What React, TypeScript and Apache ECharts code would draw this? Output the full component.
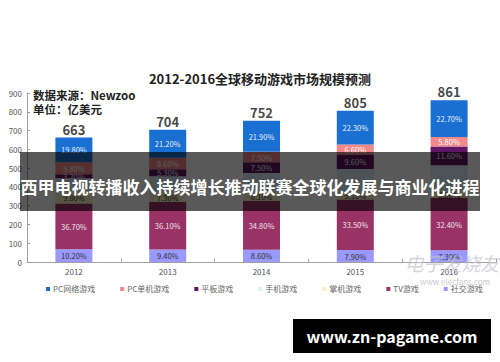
import React, { useEffect, useRef } from "react";
import * as echarts from "echarts";

const years = ["2012", "2013", "2014", "2015", "2016"];
const totals = [663, 704, 752, 805, 861];
const legendNames = ["PC网络游戏", "PC单机游戏", "平板游戏", "手机游戏", "掌机游戏", "TV游戏", "社交游戏"];
// percentage shares per segment (bottom → top order used when stacking)
const social = [10.2, 9.4, 8.6, 7.9, 7.3];
const tv = [36.7, 36.1, 34.8, 33.5, 32.4];
const handheld = [9.8, 7.3, 6.1, 5.1, 3.9];
const phone = [10.5, 12.1, 13.6, 15.0, 16.3];
const tablet = [3.2, 5.3, 7.5, 9.6, 11.6];
const pcCasual = [9.8, 8.6, 7.5, 6.6, 5.8];
const pcOnline = [19.8, 21.2, 21.9, 22.3, 22.7];

const FONT = "'Noto Sans CJK SC', 'Noto Sans', sans-serif";

export default function App() {
  const ref = useRef<HTMLDivElement>(null);
  useEffect(() => {
    if (!ref.current) return;
    const chart = echarts.init(ref.current, undefined, { renderer: "svg" });
    const stackDefs = [
      { name: "社交游戏", pct: social, color: "#9999ff", text: "#333", show: true },
      { name: "TV游戏", pct: tv, color: "#993366", text: "#f0e0ea", show: true },
      { name: "掌机游戏", pct: handheld, color: "#f5f2c4", text: "#444", show: true },
      { name: "手机游戏", pct: phone, color: "#d6eef6", text: "#444", show: false },
      { name: "平板游戏", pct: tablet, color: "#611566", text: "#eee", show: true },
      { name: "PC单机游戏", pct: pcCasual, color: "#f2888a", text: "#fff", show: true },
      { name: "PC网络游戏", pct: pcOnline, color: "#1a6fd2", text: "#e6efff", show: true },
    ];
    const series: any[] = stackDefs.map((d) => ({
      name: d.name,
      type: "bar",
      stack: "all",
      barWidth: 37,
      itemStyle: { color: d.color },
      data: totals.map((t, i) => (t * d.pct[i]) / 100),
      label: {
        show: d.show,
        position: "inside",
        fontSize: 7.5,
        fontFamily: FONT,
        color: d.text,
        formatter: (p: any) => d.pct[p.dataIndex].toFixed(2) + "%",
      },
    }));
    series.push({
      name: "总计",
      type: "scatter",
      symbolSize: 0,
      data: totals,
      z: 5,
      label: {
        show: true,
        position: "top",
        distance: 2,
        fontSize: 13,
        fontWeight: "bold",
        fontFamily: FONT,
        color: "#111",
        formatter: (p: any) => String(totals[p.dataIndex]),
      },
    });
    chart.setOption({
      animation: false,
      backgroundColor: "#fff",
      grid: { left: 27, right: 4, top: 93, bottom: 100 },
      xAxis: {
        type: "category",
        data: years,
        axisLine: { lineStyle: { color: "#a0a0a0" } },
        axisTick: { show: true, inside: true, length: 3, lineStyle: { color: "#a0a0a0" } },
        axisLabel: { fontSize: 8, color: "#555", fontFamily: FONT, margin: 5 },
      },
      yAxis: {
        type: "value",
        min: 0,
        max: 900,
        interval: 100,
        splitLine: { show: false },
        axisLine: { show: true, lineStyle: { color: "#a0a0a0" } },
        axisTick: { show: true, inside: true, length: 3, lineStyle: { color: "#a0a0a0" } },
        axisLabel: { fontSize: 8, color: "#555", fontFamily: FONT, margin: 5 },
      },
      legend: {
        data: legendNames,
        left: 41,
        top: 280,
        itemWidth: 4,
        itemHeight: 4,
        itemGap: 25,
        icon: "rect",
        textStyle: { fontSize: 8, color: "#666", fontFamily: FONT, padding: [0, 0, 0, -2] },
      },
      series,
      graphic: [
        {
          type: "text",
          x: 260,
          y: 78,
          style: {
            text: "2012-2016全球移动游戏市场规模预测",
            fontSize: 13,
            fontWeight: "bold",
            fontFamily: FONT,
            fill: "#222",
            align: "center",
            verticalAlign: "middle",
          },
        },
        {
          type: "text",
          x: 33,
          y: 95,
          style: {
            text: "数据来源：Newzoo",
            fontSize: 11.5,
            fontWeight: "bold",
            fontFamily: FONT,
            fill: "#222",
            verticalAlign: "middle",
          },
        },
        {
          type: "text",
          x: 33,
          y: 109,
          style: {
            text: "单位：亿美元",
            fontSize: 11.5,
            fontWeight: "bold",
            fontFamily: FONT,
            fill: "#222",
            verticalAlign: "middle",
          },
        },
        {
          type: "text",
          x: 452,
          y: 262,
          z: 50,
          style: {
            text: "电子发烧友",
            fontSize: 19,
            fontStyle: "italic",
            fontFamily: FONT,
            fill: "rgba(195,195,205,0.7)",
            align: "center",
            verticalAlign: "middle",
          },
        },
        {
          type: "text",
          x: 455,
          y: 281,
          z: 50,
          style: {
            text: "www.elecfans.com",
            fontSize: 8,
            fontFamily: FONT,
            fill: "rgba(185,185,195,0.8)",
            align: "center",
            verticalAlign: "middle",
          },
        },
        {
          type: "rect",
          z: 100,
          shape: { x: 20, y: 152, width: 460, height: 59 },
          style: { fill: "rgba(0,0,0,0.65)" },
        },
        {
          type: "text",
          z: 101,
          x: 250,
          y: 186,
          style: {
            text: "西甲电视转播收入持续增长推动联赛全球化发展与商业化进程",
            fontSize: 17,
            fontWeight: "bold",
            fontFamily: FONT,
            fill: "#fff",
            align: "center",
            verticalAlign: "middle",
          },
        },
        {
          type: "rect",
          z: 100,
          shape: { x: 293, y: 319, width: 198, height: 34 },
          style: { fill: "#000" },
        },
        {
          type: "text",
          z: 101,
          x: 392,
          y: 336,
          style: {
            text: "www.zn-pagame.com",
            fontSize: 16,
            fontWeight: "bold",
            fontFamily: FONT,
            fill: "#fff",
            align: "center",
            verticalAlign: "middle",
          },
        },
      ],
    });
    return () => chart.dispose();
  }, []);
  return (
    <div
      ref={ref}
      style={{ position: "fixed", left: 0, top: 0, width: 500, height: 362, background: "#fff" }}
    />
  );
}
